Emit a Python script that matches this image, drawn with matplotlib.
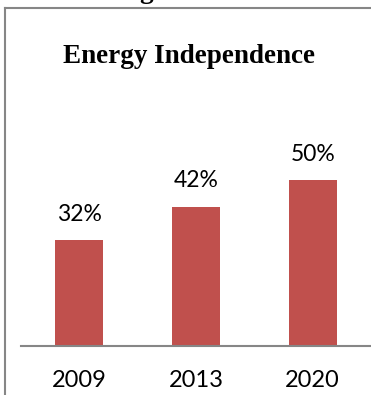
import matplotlib.pyplot as plt
from matplotlib.lines import Line2D

# Veriler
years = ["2009", "2013", "2020"]
shares = [32, 42, 50]
value_labels = ["32%", "42%", "50%"]

W, H = 371, 395
fig = plt.figure(figsize=(W / 100, H / 100), dpi=100)

# Eksen: alt kenar y=346 px, x 21..371 px
ax = fig.add_axes([21 / W, (H - 346) / H, 350 / W, (346 - 147) / H])
ax.bar(range(len(years)), shares, width=0.41, color="#C0504D", zorder=2)
ax.set_xlim(-0.5, len(years) - 0.5)
ax.set_ylim(0, 60)

for i, (v, lab) in enumerate(zip(shares, value_labels)):
    ax.annotate(lab, (i, v), xytext=(0, 11), textcoords="offset points",
                ha="center", va="bottom", fontsize=16.5, family="Lato")

ax.set_xticks(range(len(years)))
ax.set_xticklabels(years, fontsize=17, family="Lato")
ax.tick_params(axis="x", length=0, pad=17)
ax.set_yticks([])
for s in ["top", "right", "left"]:
    ax.spines[s].set_visible(False)
ax.spines["bottom"].set_color("#868686")
ax.spines["bottom"].set_linewidth(1.5)

# Çerçeve (üst ve sol kenar)
gray = "#868686"
fig.add_artist(Line2D([5 / W, 1], [1 - 8 / H, 1 - 8 / H], color=gray, lw=1.5))
fig.add_artist(Line2D([5 / W, 5 / W], [0, 1 - 8 / H], color=gray, lw=1.5))

fig.text(189 / W, 1 - 63 / H, "Energy Independence", ha="center", va="baseline",
         fontsize=19.5, fontweight="bold", family="Liberation Serif")
fig.text(146 / W, 1 + 2 / H, "g", ha="center", va="baseline",
         fontsize=19.5, fontweight="bold", family="Liberation Serif")

fig.savefig("out.png", dpi=100)
